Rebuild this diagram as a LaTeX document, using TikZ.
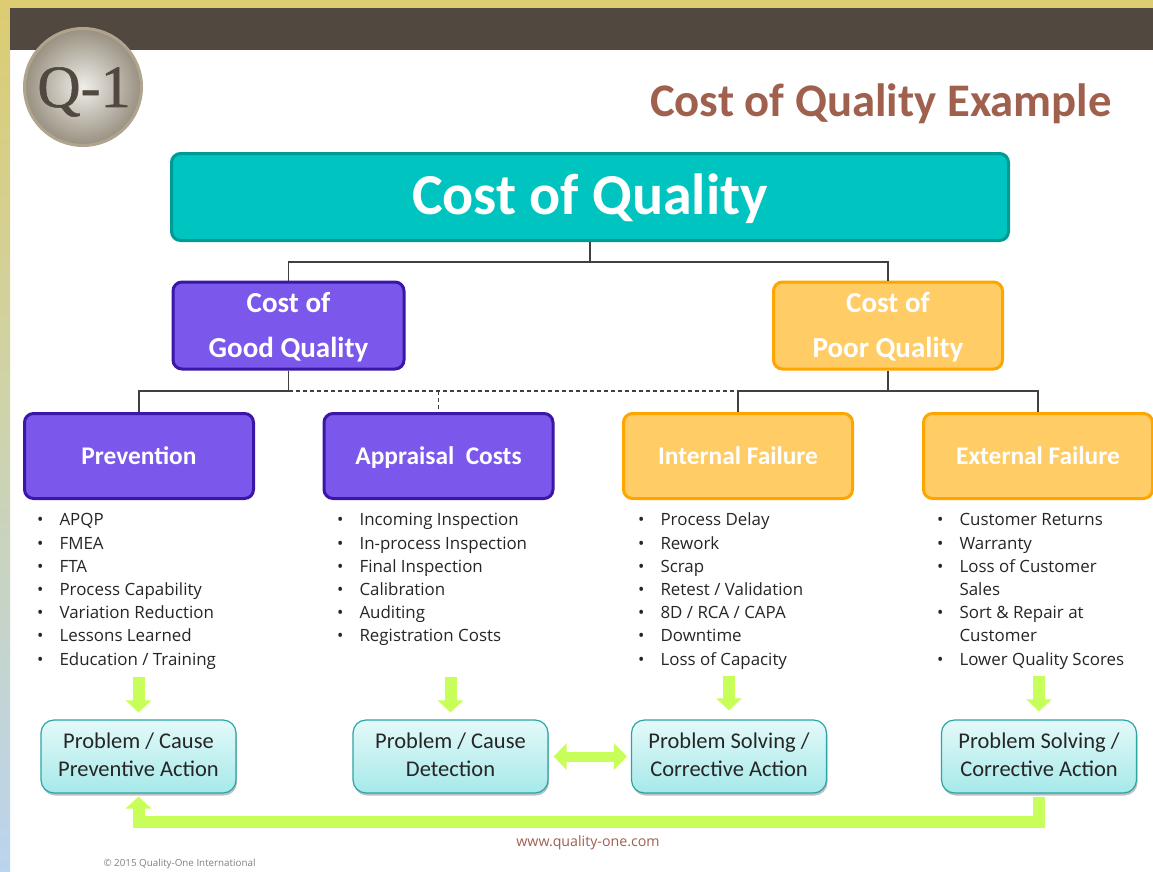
\documentclass[tikz,border=0pt]{standalone}
\usepackage{fontspec}
\setmainfont{Carlito}
\newfontfamily\listfont{Open Sans}
\newfontfamily\logofont[FakeBold=0.9]{Liberation Serif}
\usetikzlibrary{shadows,arrows.meta}
\definecolor{bandc}{HTML}{514840}
\definecolor{yelc}{HTML}{DCCC72}
\definecolor{midc}{HTML}{CFD3A8}
\definecolor{bluec}{HTML}{BBD4EF}
\definecolor{titlec}{HTML}{A0604E}
\definecolor{tealf}{HTML}{00C4C0}
\definecolor{teald}{HTML}{009A96}
\definecolor{purf}{HTML}{7B58EB}
\definecolor{purd}{HTML}{3B17A8}
\definecolor{orf}{HTML}{FFCC66}
\definecolor{ord}{HTML}{FFA500}
\definecolor{aqt}{HTML}{E4F9F9}
\definecolor{aqb}{HTML}{A6E9E9}
\definecolor{aqd}{HTML}{2AA5A5}
\definecolor{limec}{HTML}{C8FE5A}
\definecolor{txtc}{HTML}{262626}
\definecolor{linec}{HTML}{404040}
\definecolor{logoin}{HTML}{F0EEEA}
\definecolor{logoout}{HTML}{989080}
\definecolor{logorim}{HTML}{B0A48E}
\newcommand{\fs}[2]{\fontsize{#1}{#2}\selectfont}
\newcommand{\bl}{\textbullet}
\newcommand{\dn}{\rule[-4pt]{0pt}{1pt}}
\newcommand{\up}{\rule{0pt}{23pt}}
\tikzset{
  x=1pt,y=-1pt,
  topbox/.style={draw=teald,line width=3pt,fill=tealf,rounded corners=9pt,minimum width=837pt,minimum height=87pt,inner sep=0pt,text=white,text height=44pt,text depth=10pt,font=\bfseries\fs{58}{60}},
  catbox/.style={line width=3pt,rounded corners=9pt,minimum height=87pt,inner sep=0pt,text=white,align=center,font=\bfseries\fs{29}{45}},
  goodbox/.style={catbox,draw=purd,fill=purf,minimum width=231pt},
  poorbox/.style={catbox,draw=ord,fill=orf,minimum width=229pt},
  subbox/.style={line width=3pt,rounded corners=9pt,minimum width=229pt,minimum height=85pt,inner sep=0pt,text=white,text height=19pt,text depth=3pt,font=\bfseries\fs{25.4}{26}},
  gsub/.style={subbox,draw=purd,fill=purf},
  psub/.style={subbox,draw=ord,fill=orf},
  actbox/.style={draw=aqd,line width=1.2pt,rounded corners=13pt,top color=aqt,bottom color=aqb,minimum width=195pt,minimum height=73pt,inner sep=0pt,text=txtc,align=center,font=\fs{22.5}{28},drop shadow={shadow xshift=1pt,shadow yshift=-2.5pt,opacity=.35,fill=black!70}},
  listnode/.style={anchor=north west,inner sep=0pt,text=txtc,font=\listfont\fs{16.9}{23.2}},
  tree/.style={draw=linec,line width=1.3pt},
  treedash/.style={tree,dash pattern=on 4pt off 3pt},
  fat/.style={draw=limec,line width=12pt,-{Triangle[length=12pt,width=25pt]}},
  fatb/.style={draw=limec,line width=10pt,{Triangle[length=13pt,width=26pt]}-{Triangle[length=13pt,width=26pt]}},
}
\begin{document}
\begin{tikzpicture}
\useasboundingbox (0,0) rectangle (1153,872);
\fill[white] (0,0) rectangle (1153,872);
% frame
\shade[top color=yelc,bottom color=midc] (0,0) rectangle (10,400);
\shade[top color=midc,bottom color=bluec] (0,400) rectangle (10,872);
\fill[yelc] (0,0) rectangle (1153,8);
\fill[bandc] (10,8) rectangle (1153,50);
% logo
\shade[inner color=logoin,outer color=logoout] (83,87) circle (58.5);
\draw[logorim,line width=3pt] (83,87) circle (58.5);
\node[text=bandc,inner sep=0pt,anchor=base,font=\logofont\fs{60}{60}] (logo) at (84,107) {Q-1};
% title
\node[text=titlec,inner sep=0pt,anchor=base east,font=\bfseries\fs{46.7}{48}] (title) at (1112,117) {Cost of Quality Example};
% boxes
\node[topbox] (top) at (590,197) {Cost of Quality};
\node[goodbox] (good) at (288.5,325.5) {\up Cost of\\Good Quality};
\node[poorbox] (poor) at (888,325.5) {\up Cost of\\Poor Quality};
\node[gsub] (prev) at (139,456) {Prevention};
\node[gsub] (appr) at (438.5,456) {Appraisal\ \ Costs};
\node[psub] (intf) at (738,456) {Internal Failure};
\node[psub] (extf) at (1038,456) {External Failure};
% tree connectors
\coordinate (j1) at (590,262);
\coordinate (j2) at (288.5,391);
\coordinate (j3) at (888,391);
\coordinate (j4) at (438.5,391);
\draw[tree] (top.south) -- (j1);
\draw[tree] (good.north) |- (j1) -| (poor.north);
\draw[tree] (good.south) -- (j2);
\draw[tree] (j2) -| (prev.north);
\draw[tree] (poor.south) -- (j3);
\draw[tree] (j3) -| (extf.north);
\draw[tree] (j3) -| (intf.north);
\draw[treedash] (j2) -- (intf.north |- j2);
\draw[treedash] (j4) -- (appr.north);
% lists
\node[listnode] (l1) at (37,509.5) {\begin{tabular}{@{}l@{\hspace{16pt}}l@{}}
\bl&APQP\\ \bl&FMEA\\ \bl&FTA\\ \bl&Process Capability\\ \bl&Variation Reduction\\ \bl&Lessons Learned\\ \bl&Education / Training\end{tabular}};
\node[listnode] (l2) at (337,509.5) {\begin{tabular}{@{}l@{\hspace{16pt}}l@{}}
\bl&Incoming Inspection\\ \bl&In-process Inspection\\ \bl&Final Inspection\\ \bl&Calibration\\ \bl&Auditing\\ \bl&Registration Costs\end{tabular}};
\node[listnode] (l3) at (638,509.5) {\begin{tabular}{@{}l@{\hspace{16pt}}l@{}}
\bl&Process Delay\\ \bl&Rework\\ \bl&Scrap\\ \bl&Retest / Validation\\ \bl&8D / RCA / CAPA\\ \bl&Downtime\\ \bl&Loss of Capacity\end{tabular}};
\node[listnode] (l4) at (937,509.5) {\begin{tabular}{@{}l@{\hspace{16pt}}l@{}}
\bl&Customer Returns\\ \bl&Warranty\\ \bl&Loss of Customer\\ &Sales\\ \bl&Sort \& Repair at\\ &Customer\\ \bl&Lower Quality Scores\end{tabular}};
% action boxes
\node[actbox] (a1) at (138.5,756.5) {Problem / Cause\\Preventive Action\dn};
\node[actbox] (a2) at (450.5,756.5) {Problem / Cause\\Detection\dn};
\node[actbox] (a3) at (729,756.5) {Problem Solving /\\Corrective Action\dn};
\node[actbox] (a4) at (1039,756.5) {Problem Solving /\\Corrective Action\dn};
% fat arrows
\coordinate (s1) at (138.5,677);
\coordinate (s2) at (450.5,677);
\coordinate (s3) at (729,676);
\coordinate (s4) at (1039,676);
\draw[fat,shorten >=7pt] (s1) -- (a1.north);
\draw[fat,shorten >=7pt] (s2) -- (a2.north);
\draw[fat,shorten >=9pt] (s3) -- (a3.north);
\draw[fat,shorten >=8pt] (s4) -- (a4.north);
\draw[fatb,shorten <=5pt,shorten >=4pt] (a2.east) -- (a3.west);
\coordinate (b1) at (1039,821.5);
\coordinate (b2) at (138.5,821.5);
\draw[fat,line join=miter,shorten <=3pt,shorten >=3pt] (a4.south) -- (b1) -- (b2) -- (a1.south);
% footer
\node[text=titlec,inner sep=0pt,font=\listfont\fs{14.2}{16}] (web) at (588,843) {www.quality-one.com};
\node[text=black!50,inner sep=0pt,font=\listfont\fs{9.8}{11}] (copy) at (179.5,864) {© 2015 Quality-One International};
\end{tikzpicture}
\end{document}
